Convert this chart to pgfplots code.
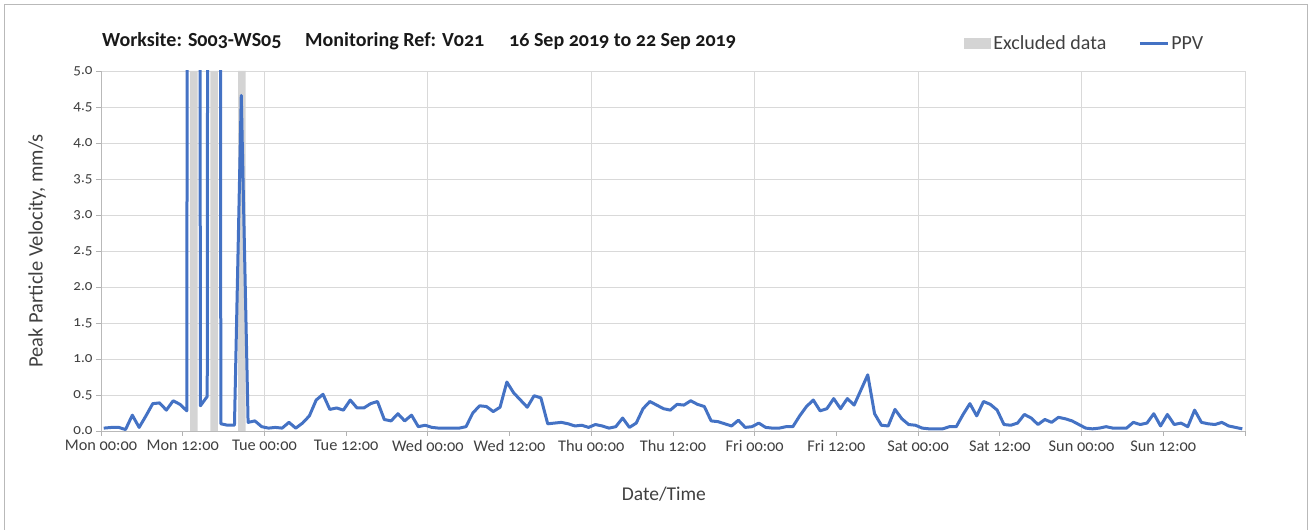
\documentclass[border=0pt]{standalone}
\usepackage{fontspec}
\setmainfont{Carlito}[Numbers=OldStyle]
\usepackage{pgfplots}
\pgfplotsset{compat=1.18}
\definecolor{ppvblue}{HTML}{4472C4}
\definecolor{exgray}{HTML}{D4D4D4}
\definecolor{gridgray}{HTML}{D9D9D9}
\definecolor{txtgray}{HTML}{404040}
\begin{document}
\begin{tikzpicture}
\useasboundingbox (0pt,0pt) rectangle (1309pt,530pt);
\draw[gray!55, line width=1pt] (4pt,-5pt) -- (4pt,525pt) -- (1307.5pt,525pt) -- (1307.5pt,-5pt);
\begin{axis}[
  at={(101pt,99pt)}, anchor=south west,
  scale only axis, width=1144pt, height=360pt,
  xmin=0, xmax=168, ymin=0, ymax=5,
  enlargelimits=false,
  axis lines*=left,
  axis line style={gray!55, line width=0.8pt},
  xtick={0,12,...,168},
  xticklabels={Mon 00:00,Mon 12:00,Tue 00:00,Tue 12:00,Wed 00:00,Wed 12:00,Thu 00:00,Thu 12:00,Fri 00:00,Fri 12:00,Sat 00:00,Sat 12:00,Sun 00:00,Sun 12:00,},
  extra x ticks={24,48,...,168},
  extra x tick labels={},
  extra x tick style={xmajorgrids=true, major tick length=0pt},
  ytick={0,0.5,...,5},
  ymajorgrids=true,
  major grid style={gridgray, line width=0.9pt},
  tick align=outside,
  major tick length=5pt,
  tick style={gray!60, line width=0.8pt},
  /pgf/number format/assume math mode=true,
  xticklabel style={font=\fontsize{16.3}{18}\selectfont, text=txtgray, yshift=-1pt},
  yticklabel style={font=\fontsize{15}{17}\selectfont, text=txtgray,
    /pgf/number format/.cd, fixed, fixed zerofill, precision=1},
  xlabel={Date/Time},
  ylabel={Peak Particle Velocity, mm/s},
  every axis x label/.style={at={(axis description cs:0.4921,-0.175)}, anchor=center,
    font=\fontsize{19.5}{22}\selectfont, text=txtgray},
  every axis y label/.style={at={(axis description cs:-0.0559,0.5)}, rotate=90, anchor=center,
    font=\fontsize{20.5}{22}\selectfont, text=txtgray},
  legend style={at={(axis description cs:0.8600,1.076)}, anchor=center, draw=none, fill=none,
    font=\fontsize{20}{22}\selectfont, text=txtgray, legend columns=2,
    /tikz/every even column/.append style={column sep=30pt},
    nodes={inner sep=2pt}},
]
\addplot[ybar, bar width=1.1, bar shift=0pt, fill=exgray, draw=none,
  legend image code/.code={\fill[exgray] (0pt,-5.5pt) rectangle (27pt,5.5pt);}]
  coordinates {(13.65,5) (16.6,5) (20.7,5)};
\addlegendentry{Excluded data}
\addplot[ppvblue, line width=3pt, line join=round, no marks,
  legend image code/.code={\draw[ppvblue, line width=3pt] (0pt,0pt) -- (28pt,0pt);}]
  table[row sep=\\] {
x y\\
0.4 0.04\\ 1.6 0.05\\ 2.6 0.05\\ 3.6 0.02\\ 4.6 0.22\\ 5.6 0.05\\ 6.6 0.21\\ 7.6 0.38\\
8.6 0.39\\ 9.6 0.29\\ 10.6 0.42\\ 11.6 0.37\\ 12.6 0.28\\ 13.6 100\\ 14.6 0.35\\ 15.6 0.48\\
16.6 100\\ 17.6 0.10\\ 18.6 0.08\\ 19.6 0.08\\ 20.6 4.66\\ 21.6 0.12\\ 22.6 0.14\\ 23.6 0.06\\
24.6 0.04\\ 25.6 0.05\\ 26.6 0.04\\ 27.6 0.12\\ 28.6 0.04\\ 29.6 0.11\\ 30.6 0.21\\ 31.6 0.43\\
32.6 0.51\\ 33.6 0.30\\ 34.6 0.32\\ 35.6 0.29\\ 36.6 0.43\\ 37.6 0.32\\ 38.6 0.32\\ 39.6 0.38\\
40.6 0.41\\ 41.6 0.16\\ 42.6 0.14\\ 43.6 0.24\\ 44.6 0.14\\ 45.6 0.22\\ 46.6 0.06\\ 47.6 0.08\\
48.6 0.05\\ 49.6 0.04\\ 50.6 0.04\\ 51.6 0.04\\ 52.6 0.04\\ 53.6 0.06\\ 54.6 0.25\\ 55.6 0.35\\
56.6 0.34\\ 57.6 0.27\\ 58.6 0.33\\ 59.6 0.68\\ 60.6 0.53\\ 61.6 0.43\\ 62.6 0.33\\ 63.6 0.49\\
64.6 0.46\\ 65.6 0.10\\ 66.6 0.11\\ 67.6 0.12\\ 68.6 0.10\\ 69.6 0.07\\ 70.6 0.08\\ 71.6 0.05\\
72.6 0.09\\ 73.6 0.07\\ 74.6 0.04\\ 75.6 0.06\\ 76.6 0.18\\ 77.6 0.05\\ 78.6 0.11\\ 79.6 0.31\\
80.6 0.41\\ 81.6 0.36\\ 82.6 0.31\\ 83.6 0.29\\ 84.6 0.37\\ 85.6 0.36\\ 86.6 0.42\\ 87.6 0.37\\
88.6 0.34\\ 89.6 0.14\\ 90.6 0.13\\ 91.6 0.10\\ 92.6 0.07\\ 93.6 0.15\\ 94.6 0.05\\ 95.6 0.06\\
96.6 0.11\\ 97.6 0.05\\ 98.6 0.04\\ 99.6 0.04\\ 100.6 0.06\\ 101.6 0.06\\ 102.6 0.21\\ 103.6 0.34\\
104.6 0.43\\ 105.6 0.28\\ 106.6 0.31\\ 107.6 0.45\\ 108.6 0.31\\ 109.6 0.45\\ 110.6 0.36\\ 111.6 0.57\\
112.6 0.78\\ 113.6 0.24\\ 114.6 0.08\\ 115.6 0.07\\ 116.6 0.30\\ 117.6 0.17\\ 118.6 0.09\\ 119.6 0.08\\
120.6 0.04\\ 121.6 0.03\\ 122.6 0.03\\ 123.6 0.03\\ 124.6 0.06\\ 125.6 0.06\\ 126.6 0.23\\ 127.6 0.38\\
128.6 0.21\\ 129.6 0.41\\ 130.6 0.37\\ 131.6 0.29\\ 132.6 0.09\\ 133.6 0.08\\ 134.6 0.11\\ 135.6 0.23\\
136.6 0.18\\ 137.6 0.09\\ 138.6 0.16\\ 139.6 0.12\\ 140.6 0.19\\ 141.6 0.17\\ 142.6 0.14\\ 143.6 0.09\\
144.6 0.04\\ 145.6 0.03\\ 146.6 0.04\\ 147.6 0.06\\ 148.6 0.04\\ 149.6 0.04\\ 150.6 0.04\\ 151.6 0.12\\
152.6 0.09\\ 153.6 0.11\\ 154.6 0.24\\ 155.6 0.07\\ 156.6 0.23\\ 157.6 0.09\\ 158.6 0.11\\ 159.6 0.06\\
160.6 0.29\\ 161.6 0.12\\ 162.6 0.10\\ 163.6 0.09\\ 164.6 0.12\\ 165.6 0.07\\ 166.6 0.05\\ 167.6 0.03\\
};
\addlegendentry{PPV}
\end{axis}
\node[anchor=base west, font=\bfseries\fontsize{20}{22}\selectfont, text=black!90, inner sep=0pt] at (102pt,483pt) {Worksite: S003-WS05};
\node[anchor=base west, font=\bfseries\fontsize{20}{22}\selectfont, text=black!90, inner sep=0pt] at (305pt,483pt) {Monitoring Ref: V021};
\node[anchor=base west, font=\bfseries\fontsize{20}{22}\selectfont, text=black!90, inner sep=0pt] at (509pt,483pt) {16 Sep 2019 to 22 Sep 2019};
\end{tikzpicture}
\end{document}
